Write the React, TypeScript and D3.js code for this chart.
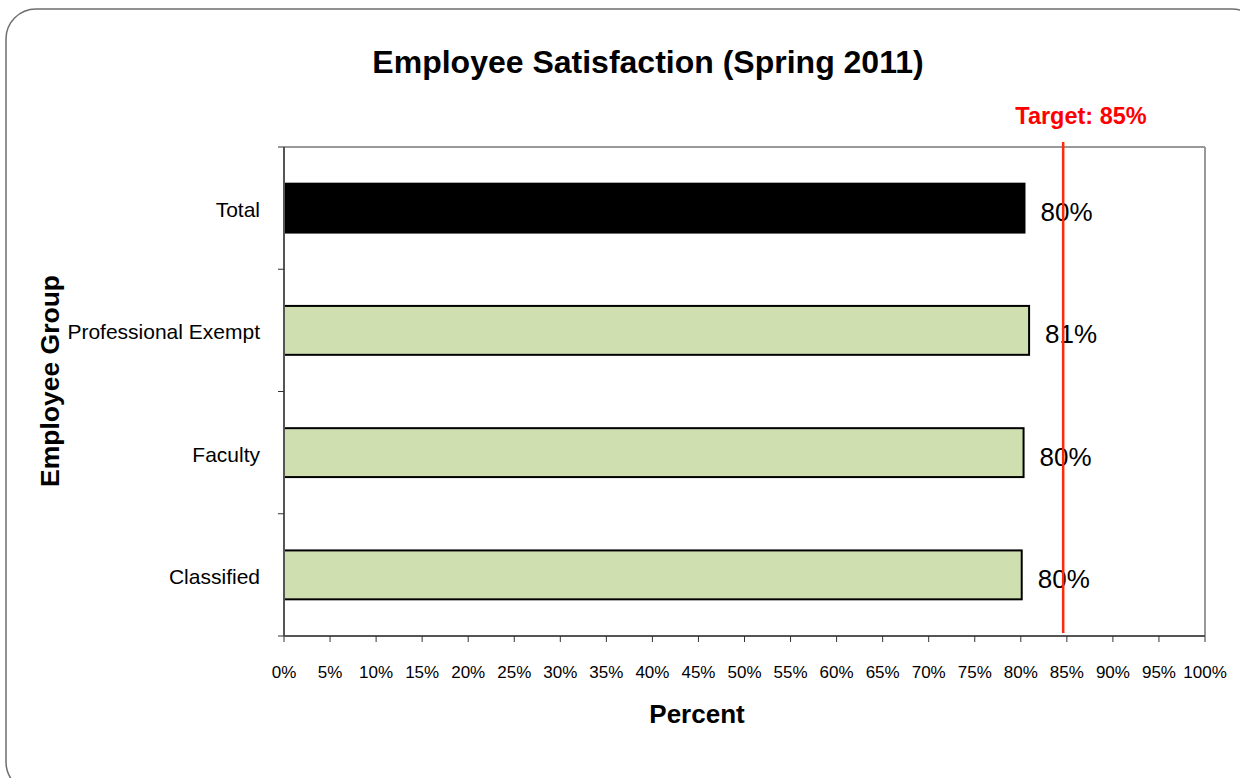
import React from "react";
import * as d3 from "d3";

const categories = ["Total", "Professional Exempt", "Faculty", "Classified"];
const values = [80.4, 80.9, 80.3, 80.1];
const valueLabels = ["80%", "81%", "80%", "80%"];
const barColors = ["#000000", "#d0dfb0", "#d0dfb0", "#d0dfb0"];
const xTicks = [0, 5, 10, 15, 20, 25, 30, 35, 40, 45, 50, 55, 60, 65, 70, 75, 80, 85, 90, 95, 100];
const targetValue = 84.6;
const targetLabel = "Target: 85%";

const W = 1240;
const H = 778;
const plot = { left: 284, right: 1205, top: 147, bottom: 636 };
const font = "'Liberation Sans', Arial, sans-serif";

export default function App() {
  const x = d3.scaleLinear().domain([0, 100]).range([plot.left, plot.right]);
  const y = d3.scaleBand().domain(categories).range([plot.top, plot.bottom]).paddingInner(0.6).paddingOuter(0.3);
  const bandEdges = d3.range(categories.length + 1).map((i) => plot.top + (i * (plot.bottom - plot.top)) / categories.length);

  return (
    <svg width={W} height={H} style={{ position: "absolute", left: 0, top: 0, background: "#fff" }} fontFamily={font}>
      <rect x={6} y={9} width={1256} height={783} rx={30} ry={30} fill="#fff" stroke="#6e6e6e" strokeWidth={1.5} />
      <text x={648} y={73} textAnchor="middle" fontSize={32} fontWeight="bold" fill="#000">
        Employee Satisfaction (Spring 2011)
      </text>
      {/* plot frame */}
      <line x1={plot.left} x2={plot.right} y1={plot.top} y2={plot.top} stroke="#999" strokeWidth={2} />
      <line x1={plot.right} x2={plot.right} y1={plot.top} y2={plot.bottom} stroke="#999" strokeWidth={2} />
      {/* bars */}
      {categories.map((c, i) => (
        <g key={c}>
          <rect
            x={x(0)}
            y={y(c)!}
            width={x(values[i]) - x(0)}
            height={y.bandwidth()}
            fill={barColors[i]}
            stroke="#000"
            strokeWidth={2}
          />
          <text x={x(values[i]) + 16} y={y(c)! + y.bandwidth() / 2 + 13} fontSize={26} fill="#000">
            {valueLabels[i]}
          </text>
          <text x={260} y={y(c)! + y.bandwidth() / 2 + 9} textAnchor="end" fontSize={21} fill="#000">
            {c}
          </text>
        </g>
      ))}
      {/* axes */}
      <line x1={plot.left} x2={plot.left} y1={plot.top} y2={plot.bottom} stroke="#555" strokeWidth={2} />
      <line x1={plot.left} x2={plot.right} y1={plot.bottom} y2={plot.bottom} stroke="#555" strokeWidth={2} />
      {bandEdges.map((v, i) => (
        <line key={i} x1={plot.left - 6} x2={plot.left} y1={v} y2={v} stroke="#333" strokeWidth={1} />
      ))}
      {xTicks.map((t) => (
        <g key={t}>
          <line x1={x(t)} x2={x(t)} y1={plot.bottom} y2={plot.bottom + 6} stroke="#333" strokeWidth={1} />
          <text x={x(t)} y={678} textAnchor="middle" fontSize={17} fill="#000">
            {t}%
          </text>
        </g>
      ))}
      {/* target */}
      <line x1={x(targetValue)} x2={x(targetValue)} y1={142} y2={633} stroke="#ff2a0a" strokeWidth={2.5} />
      <text x={1081} y={124} textAnchor="middle" fontSize={23.5} fontWeight="bold" fill="#ff0000">
        {targetLabel}
      </text>
      <text x={697} y={723} textAnchor="middle" fontSize={26} fontWeight="bold" fill="#000">
        Percent
      </text>
      <text
        transform={`translate(59, 381) rotate(-90)`}
        textAnchor="middle"
        fontSize={26.5}
        fontWeight="bold"
        fill="#000"
      >
        Employee Group
      </text>
    </svg>
  );
}
